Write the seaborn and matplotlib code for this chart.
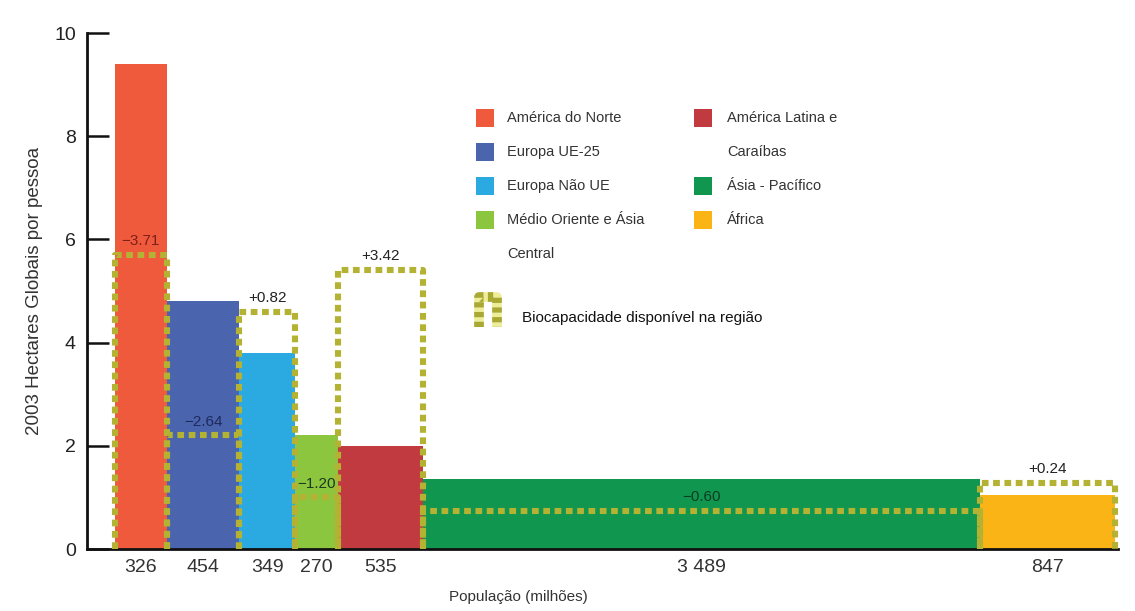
import numpy as np
import pandas as pd
import matplotlib
matplotlib.use("Agg")
import matplotlib.pyplot as plt
import seaborn as sns
from matplotlib.patches import Rectangle
from matplotlib.lines import Line2D

# data
regions = ["América do Norte", "Europa UE-25", "Europa Não UE",
           "Médio Oriente e Ásia Central", "América Latina e Caraíbas",
           "Ásia - Pacífico", "África"]
population = [326, 454, 349, 270, 535, 3489, 847]          # milhões
footprint = [9.4, 4.8, 3.8, 2.2, 2.0, 1.35, 1.05]          # hag por pessoa
biocapacity = [5.7, 2.2, 4.6, 1.0, 5.4, 0.74, 1.28]
balance_labels = ["\u22123.71", "\u22122.64", "+0.82", "\u22121.20", "+3.42", "\u22120.60", "+0.24"]
pop_labels = ["326", "454", "349", "270", "535", "3 489", "847"]
legend_lines = ["América do Norte", "Europa UE-25", "Europa Não UE",
                "Médio Oriente e Ásia\nCentral", "América Latina e\nCaraíbas",
                "Ásia - Pacífico", "África"]
legend_column = [0, 0, 0, 0, 1, 1, 1]

colors = ["#F05A3C", "#4A64AD", "#2BAAE2", "#8CC63F", "#C13A40", "#10964F", "#FBB416"]
label_colors = ["#7d1f1a", "#1f2a5c", "#222222", "#1c3a1c", "#222222", "#0c3d22", "#222222"]
dash_color = "#B3B233"

sns.set_style("white")
plt.rcParams["font.family"] = ["Liberation Sans", "DejaVu Sans"]

W, H = 1135, 611
fig = plt.figure(figsize=(W / 100, H / 100), dpi=100)
ax = fig.add_axes([87 / W, 1 - 549 / H, (1118 - 87) / W, (549 - 33) / H])

edges = [0.0] + [float(v) for v in np.cumsum(population)]
centers = [(a + b) / 2 for a, b in zip(edges[:-1], edges[1:])]
df = pd.DataFrame({"region": regions, "center": centers, "footprint": footprint})

# variable width bars: one bin per region, height = footprint
sns.histplot(data=df, x="center", weights="footprint", hue="region",
             hue_order=regions, palette=dict(zip(regions, colors)),
             bins=edges, multiple="layer", alpha=1, linewidth=0,
             legend=False, ax=ax)

# biocapacity outlines
dash = (0, (1.1, 0.75))
for left, right, bio in zip(edges[:-1], edges[1:], biocapacity):
    ax.plot([left, left, right, right], [0, bio, bio, 0], color=dash_color,
            lw=4.4, ls=dash, zorder=3, clip_on=False, solid_joinstyle="round")

for cx, bio, txt, c in zip(centers, biocapacity, balance_labels, label_colors):
    ax.annotate(txt, (cx, bio), xytext=(0, 10), textcoords="offset points",
                ha="center", va="center", fontsize=11, color=c, zorder=4)

ax.set_xlim(-175, edges[-1] + 19)
ax.set_ylim(0, 10)
ax.set_yticks([0, 2, 4, 6, 8, 10])
ax.set_xticks(centers)
ax.set_xticklabels(pop_labels)
ax.tick_params(axis="y", left=True, direction="in", length=16, width=1.8,
               labelsize=14, pad=8, colors="#111111", labelcolor="#222222")
ax.tick_params(axis="x", length=0, labelsize=14, pad=7, colors="#333333")
for s in ["top", "right"]:
    ax.spines[s].set_visible(False)
for s in ["left", "bottom"]:
    ax.spines[s].set_color("#111111")
    ax.spines[s].set_linewidth(2)

ax.set_xlabel("População (milhões)", fontsize=11, color="#333333")
ax.xaxis.set_label_coords((518 - 87) / (1118 - 87), -(590 - 549) / 516)
ax.set_ylabel("2003 Hectares Globais por pessoa", fontsize=13.5, color="#333333")
ax.yaxis.set_label_coords(-0.043, 0.5)


# legend drawn by hand, pixel layout
def fx(px):
    return px / W


def fy(py):
    return 1 - py / H


row0, pitch = 118, 34
box_x = [476, 694]
text_x = [507, 727]
slot = [0, 0]
for lab, col, c in zip(legend_lines, legend_column, colors):
    y = row0 + pitch * slot[col]
    fig.add_artist(Rectangle((fx(box_x[col]), fy(y + 9)), 18 / W, 18 / H,
                             transform=fig.transFigure, color=c, lw=0))
    for line in lab.split("\n"):
        y = row0 + pitch * slot[col]
        fig.text(fx(text_x[col]), fy(y), line, fontsize=10.5, va="center",
                 ha="left", color="#333333")
        slot[col] += 1

fig.add_artist(Line2D([fx(479), fx(479), fx(497), fx(497)],
                      [fy(327), fy(297), fy(297), fy(327)],
                      transform=fig.transFigure, color="#A9A832", lw=7,
                      ls=(0, (0.55, 0.45)), gapcolor="#EEEE99",
                      solid_joinstyle="round"))
fig.text(fx(522), fy(318), "Biocapacidade disponível na região", fontsize=11,
         va="center", ha="left", color="#111111")

fig.savefig("out.png", dpi=100, facecolor="white")
